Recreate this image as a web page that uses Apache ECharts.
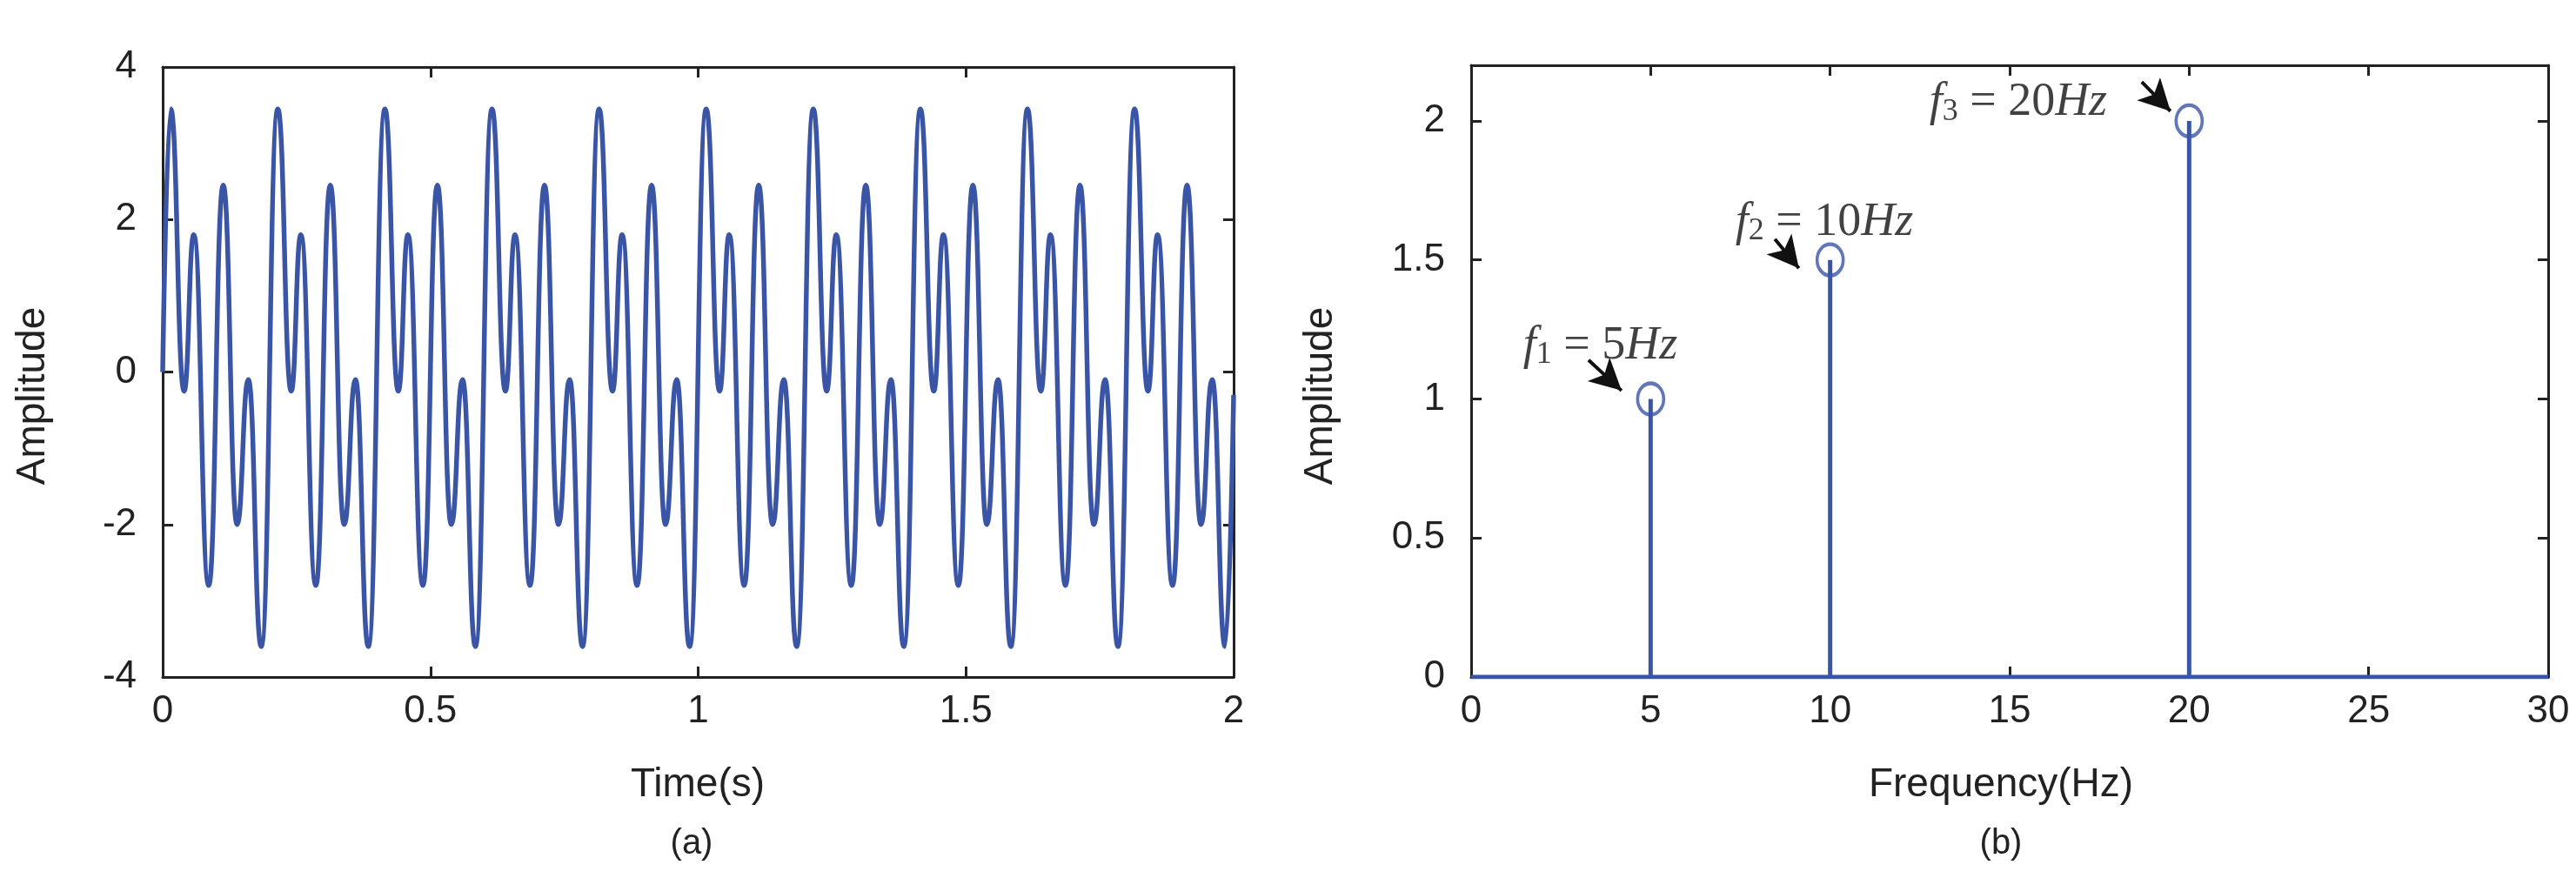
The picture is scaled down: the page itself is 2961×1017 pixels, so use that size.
<!DOCTYPE html>
<html><head><meta charset="utf-8">
<script src="https://cdn.jsdelivr.net/npm/echarts@6/dist/echarts.min.js"></script>
<style>html,body{margin:0;padding:0;background:#fff}#c{width:2961px;height:1017px}</style>
</head><body><div id="c"></div>
<script>
// Time-domain signal (extrema)
const sigT = [0,
 0.015,0.04,0.058,0.086,0.113,0.139,0.16,0.184,
 0.215,0.24,0.258,0.286,0.313,0.339,0.36,0.384,
 0.415,0.44,0.458,0.486,0.513,0.539,0.56,0.584,
 0.615,0.64,0.658,0.686,0.713,0.739,0.76,0.784,
 0.815,0.84,0.858,0.886,0.913,0.939,0.96,0.984,
 1.015,1.04,1.058,1.086,1.113,1.139,1.16,1.184,
 1.215,1.24,1.258,1.286,1.313,1.339,1.36,1.384,
 1.415,1.44,1.458,1.486,1.513,1.539,1.56,1.584,
 1.615,1.64,1.658,1.686,1.713,1.739,1.76,1.784,
 1.815,1.84,1.858,1.886,1.913,1.939,1.96,1.984,
 2.0];
const sigV = [0,
 3.45,-0.25,1.8,-2.8,2.45,-2.0,-0.1,-3.6,
 3.45,-0.25,1.8,-2.8,2.45,-2.0,-0.1,-3.6,
 3.45,-0.25,1.8,-2.8,2.45,-2.0,-0.1,-3.6,
 3.45,-0.25,1.8,-2.8,2.45,-2.0,-0.1,-3.6,
 3.45,-0.25,1.8,-2.8,2.45,-2.0,-0.1,-3.6,
 3.45,-0.25,1.8,-2.8,2.45,-2.0,-0.1,-3.6,
 3.45,-0.25,1.8,-2.8,2.45,-2.0,-0.1,-3.6,
 3.45,-0.25,1.8,-2.8,2.45,-2.0,-0.1,-3.6,
 3.45,-0.25,1.8,-2.8,2.45,-2.0,-0.1,-3.6,
 3.45,-0.25,1.8,-2.8,2.45,-2.0,-0.1,-3.6,
 -0.3];
// Spectrum
const freqs = [5, 10, 20];
const amps = [1, 1.5, 2];
const annTexts = [['1','5'],['2','10'],['3','20']];
const annPos = [[3.6,1.19],[9.84,1.635],[15.24,2.065]];
const arrows = [[[3.27,1.14],[4.19,1.03]],[[8.46,1.575],[9.13,1.47]],[[18.68,2.14],[19.48,2.035]]];

const BLUE = '#3a55a6';
const lblFont = {fontFamily:'Liberation Sans', fontSize:44, color:'#222'};
const stem = [[0,0]];
freqs.forEach((f,i)=>{stem.push([f,0],[f,amps[i]],[f,0]);});
stem.push([30,0]);

function frameAxes(gi, min, max, interval, fmt){
  const tick = {show:true, inside:true, length:12, lineStyle:{color:'#222',width:3}};
  const line = {show:true, onZero:false, lineStyle:{color:'#222',width:3}};
  const base = {gridIndex:gi,type:'value',splitLine:{show:false},axisLine:line,axisTick:tick};
  return {
    x:[Object.assign({},base,{min:min[0],max:max[0],interval:interval[0],axisLabel:Object.assign({margin:18},lblFont)}),
       Object.assign({},base,{position:'top',min:min[0],max:max[0],interval:interval[0],axisLabel:{show:false}})],
    y:[Object.assign({},base,{min:min[1],max:max[1],interval:interval[1],
        axisLabel:Object.assign({margin:30,verticalAlign:'middle',padding:[0,0,44,0],formatter:fmt},lblFont)}),
       Object.assign({},base,{position:'right',min:min[1],max:max[1],interval:interval[1],axisLabel:{show:false}})]
  };
}
const A = frameAxes(0,[0,-4],[2,4],[0.5,2],v=>String(v));
const B = frameAxes(1,[0,0],[30,2.2],[5,0.5],v=>(Math.abs(v*2-Math.round(v*2))<1e-6 && v<=2 ? String(v) : ''));

const chart = echarts.init(document.getElementById('c'));
chart.setOption({
  animation:false,
  grid:[{left:187,top:77,width:1231,height:701},{left:1691,top:75,width:1238,height:703}],
  xAxis:[A.x[0],A.x[1],B.x[0],B.x[1]],
  yAxis:[A.y[0],A.y[1],B.y[0],B.y[1]],
  series:[
    {type:'line',xAxisIndex:0,yAxisIndex:0,data:sigT.map((t,i)=>[t,sigV[i]]),smooth:0.5,smoothMonotone:'x',showSymbol:false,
     lineStyle:{color:BLUE,width:5.5}},
    {type:'line',xAxisIndex:2,yAxisIndex:2,data:stem,showSymbol:false,lineStyle:{color:BLUE,width:5},z:3},
    {type:'scatter',xAxisIndex:2,yAxisIndex:2,data:freqs.map((f,i)=>[f,amps[i]]),symbol:'circle',symbolSize:[30,36],
     itemStyle:{color:'rgba(0,0,0,0)',borderColor:BLUE,borderWidth:4},z:4},
    {type:'scatter',xAxisIndex:2,yAxisIndex:2,symbol:'circle',symbolSize:1,itemStyle:{color:'rgba(0,0,0,0)'},silent:true,z:5,
     data:annPos.map((p,i)=>({value:p,label:{show:true,position:'inside',
       formatter:'{i|f}{s|'+annTexts[i][0]+'}{n| = '+annTexts[i][1]+'}{i|Hz}',
       rich:{i:{fontFamily:'Liberation Serif',fontStyle:'italic',fontSize:54,color:'#111'},
             s:{fontFamily:'Liberation Serif',fontSize:36,color:'#111',verticalAlign:'bottom',padding:[20,0,0,0]},
             n:{fontFamily:'Liberation Serif',fontSize:54,color:'#111'}}}})),
     markLine:{silent:true,symbol:['none','arrow'],symbolSize:[28,36],lineStyle:{color:'#111',width:4,type:'solid'},label:{show:false},
       data:arrows.map(a=>[{coord:a[0]},{coord:a[1]}])}}
  ],
  graphic:[
    {type:'text',x:38,y:455,rotation:Math.PI/2,style:{text:'Amplitude',font:'46px "Liberation Sans"',fill:'#222',align:'center',verticalAlign:'middle'}},
    {type:'text',x:1518,y:455,rotation:Math.PI/2,style:{text:'Amplitude',font:'46px "Liberation Sans"',fill:'#222',align:'center',verticalAlign:'middle'}},
    {type:'text',x:802,y:902,style:{text:'Time(s)',font:'46px "Liberation Sans"',fill:'#222',align:'center',verticalAlign:'middle'}},
    {type:'text',x:2300,y:902,style:{text:'Frequency(Hz)',font:'46px "Liberation Sans"',fill:'#222',align:'center',verticalAlign:'middle'}},
    {type:'text',x:795,y:970,style:{text:'(a)',font:'40px "Liberation Sans"',fill:'#222',align:'center',verticalAlign:'middle'}},
    {type:'text',x:2300,y:970,style:{text:'(b)',font:'40px "Liberation Sans"',fill:'#222',align:'center',verticalAlign:'middle'}}
  ]
});
</script></body></html>
